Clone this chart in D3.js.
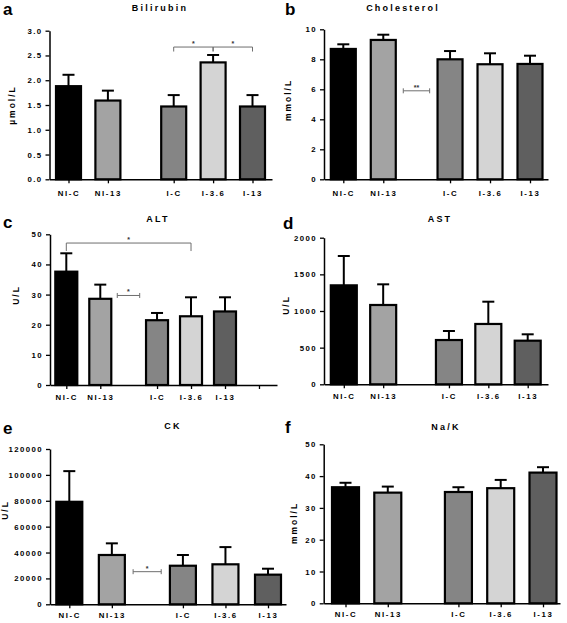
<!DOCTYPE html>
<html>
<head>
<meta charset="utf-8">
<script src="https://cdn.jsdelivr.net/npm/d3@7"></script>
<style>
  html, body { margin: 0; padding: 0; background: #fff; }
  svg { display: block; font-family: "Liberation Sans", Arial, sans-serif; }
  .tick text { font-weight: bold; }
</style>
</head>
<body>
<svg id="chart" width="567" height="623"></svg>
<script>
// ---------------- DATA ----------------
const categories = ["NI-C", "NI-13", "I-C", "I-3.6", "I-13"];
const barColors = ["#000000", "#a3a3a3", "#858585", "#d4d4d4", "#5f5f5f"];

const bilirubinMean = [1.88, 1.59, 1.47, 2.36, 1.47];
const bilirubinErr  = [0.23, 0.20, 0.23, 0.15, 0.23];
const bilirubinTicks = [0, 0.5, 1.0, 1.5, 2.0, 2.5, 3.0];

const cholesterolMean = [8.69, 9.29, 8.00, 7.67, 7.69];
const cholesterolErr  = [0.31, 0.35, 0.55, 0.73, 0.55];
const cholesterolTicks = [0, 2, 4, 6, 8, 10];

const altMean = [37.6, 28.6, 21.5, 22.8, 24.4];
const altErr  = [6.1, 4.7, 2.4, 6.3, 4.7];
const altTicks = [0, 10, 20, 30, 40, 50];

const astMean = [1350, 1082, 604, 823, 595];
const astErr  = [400, 282, 123, 304, 87];
const astTicks = [0, 500, 1000, 1500, 2000];

const ckMean = [79200, 38100, 29800, 30900, 22900];
const ckErr  = [23700, 9000, 8300, 13300, 4600];
const ckTicks = [0, 20000, 40000, 60000, 80000, 100000, 120000];

const naKMean = [36.5, 34.8, 35.0, 36.2, 41.1];
const naKErr  = [1.4, 1.9, 1.5, 2.6, 1.7];
const naKTicks = [0, 10, 20, 30, 40, 50];

// significance annotations: from/to category index (or gap), y value, label
const bilirubinSig = [{type: "span3", from: 2, mid: 3, to: 4, y: 2.67, labels: ["*", "*"]}];
const cholesterolSig = [{type: "gap", y: 5.9, labels: ["**"]}];
const altSig = [{type: "span", from: 0, to: 3, y: 47.1, labels: ["*"]},
                {type: "gap", y: 29.7, labels: ["*"]}];
const ckSig = [{type: "gap", y: 25200, labels: ["*"]}];

// ---------------- LAYOUT ----------------
const slots = [0, 1, 2.67, 3.67, 4.67];
const gapSlots = [1.5, 2.16];

const panels = [
  {letter: "a", title: "Bilirubin", ylabel: "µmol/L", mean: bilirubinMean, err: bilirubinErr, ticks: bilirubinTicks,
   fmt: d3.format(".1f"), sig: bilirubinSig,
   axisX: 49.5, axisEnd: 272, c0: 68.5, c4: 252.5, bw: 27, y0: 179.3, yTop: 30.7, yMax: 3.0,
   labelOff: 11, letterPos: [3, 15], titlePos: [160, 11], ylabPos: [15, 105], extraTick: false},
  {letter: "b", title: "Cholesterol", ylabel: "mmol/L", mean: cholesterolMean, err: cholesterolErr, ticks: cholesterolTicks,
   fmt: d3.format("d"), sig: cholesterolSig,
   axisX: 324, axisEnd: 548, c0: 343.3, c4: 530, bw: 27, y0: 179.3, yTop: 29.3, yMax: 10,
   labelOff: 11, letterPos: [285, 15], titlePos: [403, 11], ylabPos: [291, 100], extraTick: false},
  {letter: "c", title: "ALT", ylabel: "U/L", mean: altMean, err: altErr, ticks: altTicks,
   fmt: d3.format("d"), sig: altSig,
   axisX: 50, axisEnd: 277, c0: 66.3, c4: 225, bw: 24, y0: 385, yTop: 234.3, yMax: 50,
   labelOff: 9.5, letterPos: [3, 228], titlePos: [158, 222], ylabPos: [19, 295], extraTick: true},
  {letter: "d", title: "AST", ylabel: "U/L", mean: astMean, err: astErr, ticks: astTicks,
   fmt: d3.format("d"), sig: [],
   axisX: 324, axisEnd: 548, c0: 343.8, c4: 527.7, bw: 28, y0: 384.3, yTop: 237.7, yMax: 2000,
   labelOff: 9.5, letterPos: [283, 229], titlePos: [440, 222], ylabPos: [289, 305], extraTick: false},
  {letter: "e", title: "CK", ylabel: "U/L", mean: ckMean, err: ckErr, ticks: ckTicks,
   fmt: d3.format("d"), sig: ckSig,
   axisX: 50, axisEnd: 286, c0: 69.3, c4: 268, bw: 28, y0: 604.3, yTop: 449, yMax: 120000,
   labelOff: 8.5, letterPos: [3, 434], titlePos: [173, 429], ylabPos: [8, 510], extraTick: false},
  {letter: "f", title: "Na/K", ylabel: "mmol/L", mean: naKMean, err: naKErr, ticks: naKTicks,
   fmt: d3.format("d"), sig: [],
   axisX: 323.7, axisEnd: 560, c0: 345.5, c4: 543, bw: 29, y0: 603.3, yTop: 444.3, yMax: 50,
   labelOff: 8.5, letterPos: [285, 433], titlePos: [446, 430], ylabPos: [297, 523], extraTick: false}
];

const svg = d3.select("#chart");
svg.append("rect").attr("width", 567).attr("height", 623).attr("fill", "#fff");

panels.forEach(p => {
  const g = svg.append("g");
  const slope = (p.c4 - p.c0) / slots[slots.length - 1];
  const dStart = (p.axisX - p.c0) / slope;
  const dEnd = (p.axisEnd - p.c0) / slope;
  const x = d3.scaleLinear().domain([dStart, dEnd]).range([p.axisX, p.axisEnd]);
  const y = d3.scaleLinear().domain([0, p.yMax]).range([p.y0, p.yTop]);

  const data = categories.map((c, i) => ({c, i, m: p.mean[i], e: p.err[i]}));

  // error bars
  g.selectAll(".eb").data(data).enter().append("line")
    .attr("x1", d => x(slots[d.i])).attr("x2", d => x(slots[d.i]))
    .attr("y1", d => y(d.m)).attr("y2", d => y(d.m + d.e))
    .attr("stroke", "#000").attr("stroke-width", 2);
  g.selectAll(".cap").data(data).enter().append("line")
    .attr("x1", d => x(slots[d.i]) - 6).attr("x2", d => x(slots[d.i]) + 6)
    .attr("y1", d => y(d.m + d.e)).attr("y2", d => y(d.m + d.e))
    .attr("stroke", "#000").attr("stroke-width", 2);

  // bars
  g.selectAll(".bar").data(data).enter().append("rect")
    .attr("x", d => x(slots[d.i]) - p.bw / 2 + 1)
    .attr("width", p.bw - 2)
    .attr("y", d => y(d.m))
    .attr("height", d => y(0) - y(d.m))
    .attr("fill", (d, i) => barColors[i])
    .attr("stroke", "#000").attr("stroke-width", 2.2);

  // y axis
  const yAxis = d3.axisLeft(y).tickValues(p.ticks).tickFormat(p.fmt).tickSize(4).tickSizeOuter(0).tickPadding(3);
  const ga = g.append("g").attr("transform", `translate(${p.axisX},0)`).call(yAxis);
  ga.select(".domain").attr("stroke-width", 1.5);
  ga.selectAll(".tick line").attr("stroke-width", 1.3);
  ga.selectAll(".tick text").attr("font-size", 7.8).attr("letter-spacing", 1.4).attr("fill", "#000");

  // x axis
  const tv = p.extraTick ? slots.concat([slots[slots.length - 1] + 1]) : slots;
  const xAxis = d3.axisBottom(x).tickValues(tv)
    .tickFormat(v => { const k = slots.indexOf(v); return k >= 0 ? categories[k] : ""; })
    .tickSize(4).tickSizeOuter(0).tickPadding(p.labelOff - 4);
  const gx = g.append("g").attr("transform", `translate(0,${p.y0})`).call(xAxis);
  gx.select(".domain").attr("stroke-width", 1.5);
  gx.selectAll(".tick line").attr("stroke-width", 1.3);
  gx.selectAll(".tick text").attr("font-size", 7.8).attr("letter-spacing", 1.6).attr("fill", "#000");

  // significance
  const sc = "#6e6e6e";
  const star = (xx, yy, t) => g.append("text").attr("x", xx).attr("y", yy).attr("text-anchor", "middle")
      .attr("font-size", 7).attr("font-weight", "bold").attr("fill", "#333").text(t);
  p.sig.forEach(s => {
    const yy = y(s.y);
    if (s.type === "gap") {
      const xa = x(gapSlots[0]), xb = x(gapSlots[1]);
      g.append("line").attr("x1", xa).attr("x2", xb).attr("y1", yy).attr("y2", yy).attr("stroke", sc).attr("stroke-width", 1);
      [xa, xb].forEach(xx => g.append("line").attr("x1", xx).attr("x2", xx).attr("y1", yy - 2.5).attr("y2", yy + 2.5).attr("stroke", sc).attr("stroke-width", 1));
      star((xa + xb) / 2, yy - 1, s.labels[0]);
    } else if (s.type === "span") {
      const xa = x(slots[s.from]), xb = x(slots[s.to]);
      g.append("path").attr("d", `M${xa},${yy + 8}V${yy}H${xb}V${yy + 8}`).attr("fill", "none").attr("stroke", sc).attr("stroke-width", 1);
      star((xa + xb) / 2, yy - 1, s.labels[0]);
    } else if (s.type === "span3") {
      const xa = x(slots[s.from]), xm = x(slots[s.mid]), xb = x(slots[s.to]);
      g.append("path").attr("d", `M${xa},${yy + 4.5}V${yy}H${xb}V${yy + 4.5}`).attr("fill", "none").attr("stroke", sc).attr("stroke-width", 1);
      g.append("line").attr("x1", xm).attr("x2", xm).attr("y1", yy).attr("y2", yy + 4.5).attr("stroke", sc).attr("stroke-width", 1.5);
      star((xa + xm) / 2, yy - 1, s.labels[0]);
      star((xm + xb) / 2, yy - 1, s.labels[1]);
    }
  });

  // titles and labels
  g.append("text").attr("x", p.letterPos[0]).attr("y", p.letterPos[1])
    .attr("font-size", 17).attr("font-weight", "bold").attr("fill", "#000").text(p.letter);
  g.append("text").attr("x", p.titlePos[0]).attr("y", p.titlePos[1]).attr("text-anchor", "middle")
    .attr("font-size", 9).attr("font-weight", "bold").attr("letter-spacing", 2.2).attr("fill", "#000").text(p.title);
  g.append("text").attr("transform", `translate(${p.ylabPos[0]},${p.ylabPos[1]}) rotate(-90)`)
    .attr("text-anchor", "middle").attr("font-size", 8.5).attr("font-weight", "bold").attr("letter-spacing", 2)
    .attr("fill", "#000").text(p.ylabel);
});
</script>
</body>
</html>
